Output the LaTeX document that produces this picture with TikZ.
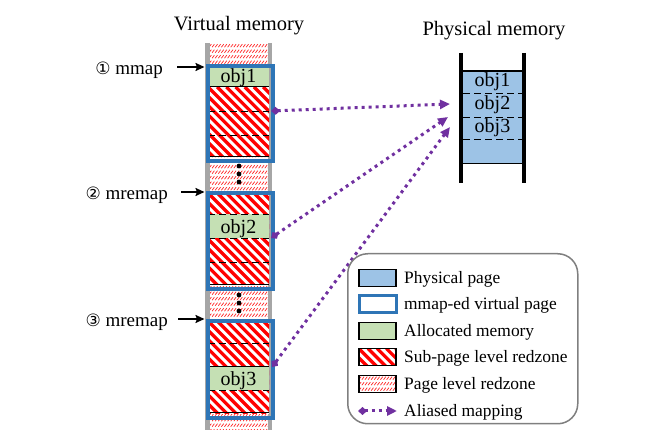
\documentclass[tikz,border=0pt]{standalone}
\usepackage{fontspec}
\setmainfont{Liberation Serif}
\newfontfamily\circfont{DejaVu Sans}
\usetikzlibrary{arrows.meta}
\definecolor{vblue}{HTML}{2E75B6}
\definecolor{pblue}{HTML}{9DC3E6}
\definecolor{agreen}{HTML}{C5E0B4}
\definecolor{apurple}{HTML}{7030A0}
\definecolor{colgray}{HTML}{A6A6A6}
\definecolor{lgray}{HTML}{7F7F7F}
\begin{document}
\begin{tikzpicture}[x=1pt,y=-1pt,
  subrz/.style={fill=white,path picture={
    \foreach \k in {-12,...,8}{\draw[red,line width=3.3pt] ([xshift=\k*9.2pt]path picture bounding box.north west) -- ++(120,120);}}},
  pgrz/.style={fill=white,path picture={
    \foreach \r in {0,...,#1}{\foreach \c in {0,...,20}{\draw[red!85,line width=0.7pt] ([xshift=\c*3.1pt,yshift=-\r*5.5pt]path picture bounding box.north west) ++(0,4.2) -- ++(2.3,-3);}}}},
  vpage/.style={draw=vblue,line width=4pt,inner sep=0pt,anchor=north west,minimum width=65pt},
  sepline/.style={black,line width=1pt},
  sepdash/.style={black,line width=0.9pt,dash pattern=on 7pt off 4pt},
  objtext/.style={font=\fontsize{20}{24}\selectfont,anchor=base,inner sep=0pt},
  title/.style={font=\fontsize{20.5}{24}\selectfont,anchor=base,inner sep=0pt},
  oplabel/.style={font=\fontsize{19}{23}\selectfont,anchor=base east,inner sep=0pt},
  legtext/.style={font=\fontsize{17.4}{21}\selectfont,anchor=base west,inner sep=0pt},
  swatch/.style={minimum width=37pt,minimum height=17pt,inner sep=0pt,anchor=west,line width=1.5pt},
  marrow/.style={-{Stealth[length=9pt,width=8pt,inset=1.5pt]},line width=2.5pt,shorten >=1.5pt},
  alias/.style={apurple,line width=3pt,dash pattern=on 3pt off 4pt,
    {Diamond[length=9pt,width=8pt]}-{Triangle[length=10pt,width=9pt]}}
]
\useasboundingbox (0,0) rectangle (646,438);

% ---------- titles ----------
\node[title] (tv) at (239,31) {Virtual memory};
\node[title] (tp) at (494,36) {Physical memory};

% ---------- virtual column ----------
\path[pgrz=71] (209,43) rectangle (269,430);
\draw[colgray,line width=5pt] (207.5,43) -- (207.5,430);
\draw[colgray,line width=4pt] (270,43) -- (270,430);
\foreach \yy in {166,174,182,295,303,311} \fill (239,\yy) circle (2.4);

% box 1
\fill[agreen] (208,66) rectangle (269,87);
\path[subrz] (208,87) rectangle (269,157);
\draw[sepline] (208,87) -- (269,87);
\draw[sepline] (208,157) -- (269,157);
\draw[sepdash] (208,111) -- (269,111);
\draw[sepdash] (208,135) -- (269,135);
\node[objtext] (o1) at (238.5,83) {obj1};
\node[vpage,minimum height=95pt] (box1) at (206,64) {};

% box 2
\path[subrz] (208,193) rectangle (269,285);
\fill[agreen] (208,214) rectangle (269,238);
\draw[sepdash] (208,214) -- (269,214);
\draw[sepdash] (208,238) -- (269,238);
\draw[sepdash] (208,262) -- (269,262);
\draw[sepline] (208,285) -- (269,285);
\node[objtext] (o2) at (238.5,234) {obj2};
\node[vpage,minimum height=96pt] (box2) at (206,191) {};

% box 3
\path[subrz] (208,321) rectangle (269,414);
\fill[agreen] (208,367) rectangle (269,390);
\draw[sepdash] (208,343) -- (269,343);
\draw[sepline] (208,367) -- (269,367);
\draw[sepdash] (208,390) -- (269,390);
\draw[sepline] (208,413) -- (269,413);
\node[objtext] (o3) at (238.5,386) {obj3};
\node[vpage,minimum height=97pt] (box3) at (206,319) {};

% ---------- operation labels ----------
\node[oplabel] (l1) at (163,75) {{\circfont\fontsize{17}{20}\selectfont ①} mmap};
\node[oplabel] (l2) at (168,200) {{\circfont\fontsize{17}{20}\selectfont ②} mremap};
\node[oplabel] (l3) at (168,327) {{\circfont\fontsize{17}{20}\selectfont ③} mremap};
\coordinate (m1) at (177,67);
\coordinate (m2) at (181,192);
\coordinate (m3) at (178,319);
\draw[marrow] (m1) -- (m1 -| box1.west);
\draw[marrow] (m2) -- (m2 -| box2.west);
\draw[marrow] (m3) -- (m3 -| box3.west);

% ---------- physical memory ----------
\node[fill=pblue,inner sep=0pt,anchor=north west,minimum width=59pt,minimum height=92pt] (phys) at (463,71) {};
\draw[sepline,line width=1.3pt] (phys.north west) -- (phys.north east);
\draw[sepline,line width=1.3pt] (phys.south west) -- (phys.south east);
\draw[sepdash] (463,93) -- (522,93);
\draw[sepdash] (463,117) -- (522,117);
\draw[sepdash] (463,139) -- (522,139);
\draw[line width=3.5pt] (461,53) -- (461,183);
\draw[line width=3.5pt] (524,53) -- (524,183);
\node[objtext] (p1) at (492.5,87) {obj1};
\node[objtext] (p2) at (492.5,110) {obj2};
\node[objtext] (p3) at (492.5,133) {obj3};

% ---------- aliased mappings ----------
\coordinate (s1) at (271,111);
\coordinate (s2) at (271,238);
\coordinate (s3) at (272,367);
\coordinate (t1) at (450,104);
\coordinate (t2) at (448,117);
\coordinate (t3) at (450,127);
\draw[alias] (s1) -- (t1);
\draw[alias] (s2) -- (t2);
\draw[alias] (s3) -- (t3);

% ---------- legend ----------
\node[draw=lgray,line width=1.5pt,rounded corners=20pt,minimum width=230pt,minimum height=170pt,anchor=north west,inner sep=0pt] (legend) at (347,253) {};
\node[swatch,fill=pblue,draw=black] (g1) at (358,278) {};
\node[swatch,fill=white,draw=vblue,line width=3pt] (g2) at (358,304) {};
\node[swatch,fill=agreen,draw=black] (g3) at (358,331) {};
\node[swatch,subrz,draw=black] (g4) at (358,357) {};
\node[swatch,pgrz=3,draw=black] (g5) at (358,384) {};
\coordinate (g6a) at (358,411);
\coordinate (g6b) at (397,411);
\draw[alias] (g6a) -- (g6b);
\node[legtext] (e1) at (404,284) {Physical page};
\node[legtext] (e2) at (404,310) {mmap-ed virtual page};
\node[legtext] (e3) at (404,337) {Allocated memory};
\node[legtext] (e4) at (404,363) {Sub-page level redzone};
\node[legtext] (e5) at (404,390) {Page level redzone};
\node[legtext] (e6) at (404,417) {Aliased mapping};
\end{tikzpicture}
\end{document}
